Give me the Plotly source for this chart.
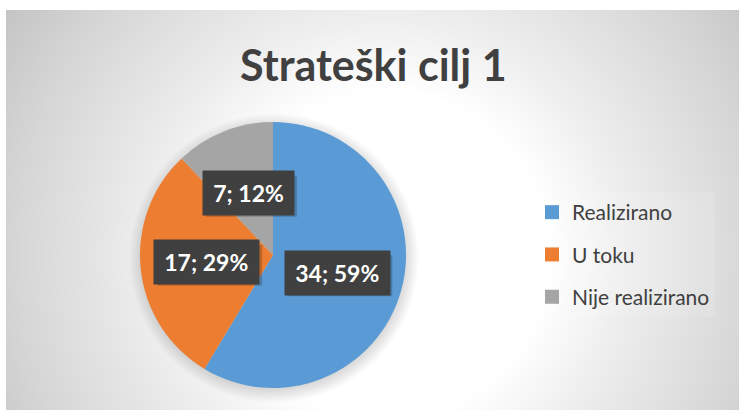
import math
import base64
import plotly.graph_objects as go

# ---- data ----
labels = ["Realizirano", "U toku", "Nije realizirano"]
values = [34, 17, 7]
colors = ["#5B9BD5", "#ED7D31", "#A5A5A5"]
title_text = "Strateški cilj 1"

W, H = 739, 410
# pie geometry in pixels (from top-left)
cx, cy, r = 273, 255, 133

fig = go.Figure()

# background radial gradient as svg image
svg = f'''<svg xmlns="http://www.w3.org/2000/svg" width="{W-6}" height="{H-10}">
<defs><radialGradient id="g" gradientUnits="userSpaceOnUse" cx="380" cy="245" r="450">
<stop offset="0" stop-color="#ffffff"/>
<stop offset="0.36" stop-color="#ffffff"/>
<stop offset="0.53" stop-color="#eeeeee"/>
<stop offset="0.82" stop-color="#d6d6d6"/>
<stop offset="1" stop-color="#c5c5c5"/>
</radialGradient>
<radialGradient id="s" gradientUnits="userSpaceOnUse" cx="{cx-6+1}" cy="{cy-10+3}" r="{r+12}">
<stop offset="0.88" stop-color="#000000" stop-opacity="0.18"/>
<stop offset="1" stop-color="#000000" stop-opacity="0"/>
</radialGradient></defs>
<rect x="0" y="0" width="{W-6}" height="{H-10}" fill="url(#g)"/>
<circle cx="{cx-6+1}" cy="{cy-10+3}" r="{r+12}" fill="url(#s)"/>
</svg>'''
src = "data:image/svg+xml;base64," + base64.b64encode(svg.encode()).decode()

fig.add_trace(go.Pie(
    labels=labels, values=values,
    marker=dict(colors=colors, line=dict(width=0)),
    sort=False, direction="clockwise", rotation=0,
    textinfo="none", hoverinfo="label+value+percent",
    showlegend=False,
    domain=dict(x=[(cx - r) / W, (cx + r) / W],
                y=[(H - cy - r) / H, (H - cy + r) / H]),
))

# legend entries
for i, (lab, col) in enumerate(zip(labels, colors)):
    fig.add_trace(go.Scatter(
        x=[None], y=[None], mode="markers", name=lab,
        marker=dict(symbol="square", size=14, color=col),
        legendgroup=f"g{i}", showlegend=True, hoverinfo="skip",
    ))

# data labels at half radius, mid angle of each slice
total = sum(values)
cum = 0
annotations = []
shapes = []
for v in values:
    mid = (cum + v / 2) / total * 2 * math.pi
    cum += v
    f = 0.5
    px = cx + f * r * math.sin(mid)
    py = (H - cy) + f * r * math.cos(mid)
    raw = f"{v}; {round(v / total * 100)}%"
    bw = 13.5 * len(raw) + 10
    bh = 41
    # drop shadow of the label box
    shapes.append(dict(
        type="rect", xref="paper", yref="paper",
        xsizemode="pixel", ysizemode="pixel",
        xanchor=px / W, yanchor=py / H,
        x0=-bw / 2 + 3, x1=bw / 2 + 3, y0=-bh / 2 - 3, y1=bh / 2 - 3,
        fillcolor="rgba(0,0,0,0.2)", line=dict(width=0), layer="above",
    ))
    annotations.append(dict(
        x=px / W, y=py / H, xref="paper", yref="paper",
        xanchor="center", yanchor="middle",
        text=f"<b>{raw}</b>", showarrow=False,
        font=dict(family="Lato", size=23, color="#ffffff"),
        bgcolor="#404040", borderpad=8, width=bw - 16,
    ))

annotations.append(dict(
    x=373 / W, y=(H - 64) / H, xref="paper", yref="paper",
    xanchor="center", yanchor="middle",
    text=f"<b>{title_text}</b>", showarrow=False,
    font=dict(family="Lato", size=43, color="#404040"),
))

fig.update_layout(
    width=W, height=H,
    margin=dict(l=0, r=0, t=0, b=0),
    paper_bgcolor="#ffffff", plot_bgcolor="rgba(0,0,0,0)",
    xaxis=dict(visible=False), yaxis=dict(visible=False),
    images=[dict(source=src, xref="paper", yref="paper",
                 x=6 / W, y=1 - 10 / H, sizex=(W - 6) / W, sizey=(H - 10) / H,
                 xanchor="left", yanchor="top", sizing="stretch", layer="below")],
    annotations=annotations,
    shapes=shapes,
    showlegend=True,
    legend=dict(x=532 / W, y=(H - 192) / H, xanchor="left", yanchor="top",
                font=dict(family="Lato", size=21, color="#404040"),
                bgcolor="rgba(255,255,255,0.12)", tracegroupgap=12,
                itemclick=False, itemdoubleclick=False),
)

fig.write_html("out.html", post_script="document.body.style.margin='0';",
               config={"displayModeBar": False})
